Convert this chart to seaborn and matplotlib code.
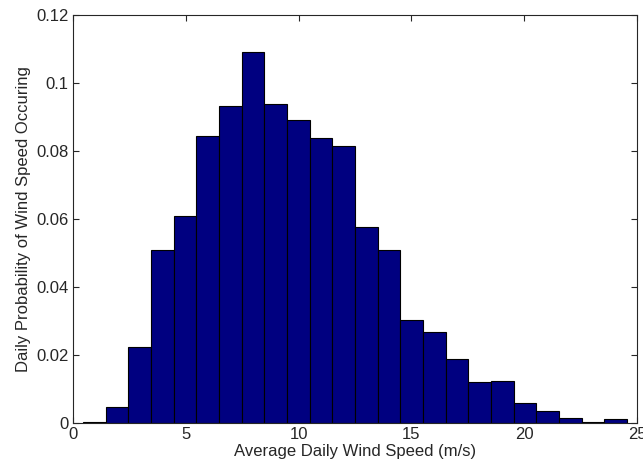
import numpy as np
import pandas as pd
import seaborn as sns
import matplotlib.pyplot as plt
from matplotlib.ticker import FuncFormatter

# DATA
bin_edges = list(np.linspace(0.45, 24.55, 25))
bin_centers = [(a + b) / 2 for a, b in zip(bin_edges[:-1], bin_edges[1:])]
probability = [0.0004, 0.0047, 0.0223, 0.0510, 0.0610, 0.0843, 0.0931, 0.1090,
               0.0939, 0.0892, 0.0838, 0.0815, 0.0575, 0.0509, 0.0303, 0.0268,
               0.0189, 0.0121, 0.0123, 0.0059, 0.0034, 0.0016, 0.0004, 0.0013]
x_ticks = [0, 5, 10, 15, 20, 25]
y_ticks = [0, 0.02, 0.04, 0.06, 0.08, 0.1, 0.12]

df = pd.DataFrame({"speed": bin_centers, "prob": probability})

# PLOT SETTING
sns.set_style("ticks")
plt.rcParams['font.family'] = ['Liberation Sans', 'DejaVu Sans']
fig = plt.figure(figsize=(6.43, 4.66), dpi=100)
ax = fig.add_axes([0.1135, 0.0923, 0.8772, 0.8755])

# CREATE HISTOGRAM
sns.histplot(data=df, x="speed", weights="prob", bins=bin_edges,
             color="#000080", alpha=1, edgecolor="black", linewidth=0.8, ax=ax)

ax.set_xlim(0, 25)
ax.set_ylim(0, 0.12)
ax.set_xticks(x_ticks)
ax.set_yticks(y_ticks)
ax.yaxis.set_major_formatter(FuncFormatter(lambda v, p: "{:g}".format(round(v, 4))))
ax.tick_params(direction="in", top=True, right=True, labelsize=12, length=4,
               width=0.8, pad=3)
for s in ax.spines.values():
    s.set_visible(True)
    s.set_linewidth(0.8)
ax.set_xlabel("Average Daily Wind Speed (m/s)", fontsize=12, labelpad=1)
ax.set_ylabel("Daily Probability of Wind Speed Occuring", fontsize=12, labelpad=4)

plt.savefig("out.png", dpi=100)
plt.close()
